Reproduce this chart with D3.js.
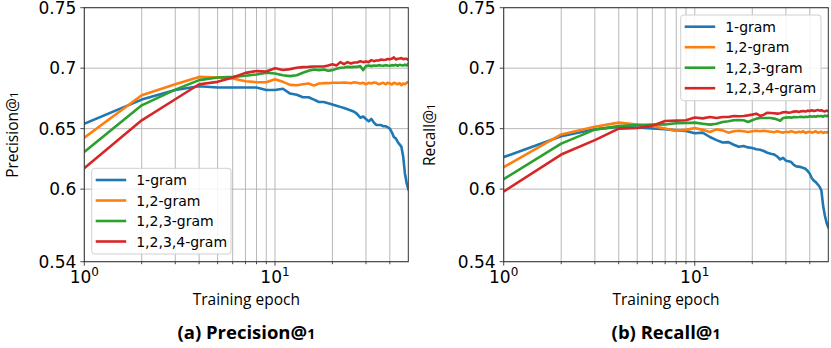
<!DOCTYPE html>
<html><head><meta charset="utf-8">
<script src="https://cdn.jsdelivr.net/npm/d3@7"></script>
<style>body{margin:0;background:#fff}svg{display:block}</style>
</head><body><svg id="c" width="831" height="348"></svg>
<script>
const epochs = [1,2,3,4,5,6,7,8,9,10,11,12,13,14,15,16,17,18,19,20,21,22,23,24,25,26,27,28,29,30,31,32,33,34,35,36,37,38,39,40,41,42,43,44,45,46,47,48,49,50];
const seriesNames = ["1-gram","1,2-gram","1,2,3-gram","1,2,3,4-gram"];
const seriesColors = ["#1f77b4","#ff7f0e","#2ca02c","#d62728"];

const precision1 = [0.654,0.674,0.682,0.685,0.684,0.684,0.684,0.684,0.682,0.682,0.683,0.679,0.678,0.676,0.676,0.674,0.672,0.672,0.671,0.670,0.669,0.668,0.667,0.666,0.665,0.664,0.662,0.659,0.660,0.658,0.656,0.658,0.655,0.653,0.653,0.653,0.652,0.652,0.651,0.650,0.647,0.643,0.642,0.639,0.637,0.635,0.627,0.613,0.605,0.600];
const precision12 = [0.6425,0.6776,0.6867,0.6928,0.6923,0.6915,0.6892,0.6884,0.6884,0.6909,0.6887,0.6862,0.6859,0.6867,0.6873,0.6856,0.6873,0.6876,0.6876,0.6879,0.6879,0.6879,0.6881,0.6879,0.6876,0.6884,0.6879,0.6873,0.6879,0.6867,0.6879,0.6873,0.6881,0.6879,0.6867,0.6873,0.6879,0.6867,0.6879,0.6873,0.6865,0.6879,0.6873,0.6867,0.6876,0.6859,0.6873,0.6867,0.6879,0.6884];
const precision123 = [0.6307,0.6693,0.6823,0.6901,0.6923,0.6928,0.6937,0.6948,0.6962,0.6956,0.6942,0.6934,0.6942,0.6962,0.6978,0.6989,0.6984,0.6989,0.6978,0.6984,0.6995,0.7003,0.7006,0.7011,0.7009,0.7011,0.7011,0.7017,0.6984,0.7017,0.7022,0.7017,0.7022,0.7020,0.7025,0.7022,0.7020,0.7025,0.7022,0.7020,0.7025,0.7022,0.7028,0.7020,0.7028,0.7025,0.7022,0.7030,0.7022,0.7036];
const precision1234 = [0.6174,0.6569,0.6743,0.6867,0.6887,0.6923,0.6961,0.6976,0.6973,0.7000,0.6985,0.6992,0.7003,0.7009,0.7011,0.7014,0.7014,0.7014,0.7022,0.7033,0.7022,0.7050,0.7033,0.7050,0.7039,0.7047,0.7047,0.7058,0.7050,0.7056,0.7050,0.7067,0.7058,0.7064,0.7064,0.7072,0.7067,0.7069,0.7075,0.7075,0.7078,0.7089,0.7072,0.7078,0.7080,0.7083,0.7075,0.7078,0.7078,0.7067];

const recall1 = [0.6265,0.6437,0.6495,0.6513,0.6510,0.6502,0.6495,0.6486,0.6481,0.6462,0.6467,0.6431,0.6405,0.6386,0.6389,0.6367,0.6350,0.6356,0.6345,0.6340,0.6330,0.6326,0.6315,0.6300,0.6293,0.6287,0.6270,0.6245,0.6259,0.6235,0.6230,0.6224,0.6200,0.6188,0.6186,0.6182,0.6175,0.6168,0.6150,0.6127,0.6090,0.6070,0.6058,0.6040,0.6020,0.5990,0.5860,0.5780,0.5720,0.5685];
const recall12 = [0.6182,0.6452,0.6515,0.6550,0.6533,0.6520,0.6502,0.6482,0.6490,0.6505,0.6490,0.6472,0.6494,0.6486,0.6467,0.6478,0.6483,0.6478,0.6472,0.6478,0.6483,0.6478,0.6483,0.6478,0.6475,0.6470,0.6478,0.6472,0.6467,0.6475,0.6470,0.6478,0.6472,0.6467,0.6475,0.6470,0.6478,0.6464,0.6472,0.6475,0.6467,0.6472,0.6478,0.6467,0.6470,0.6475,0.6464,0.6472,0.6467,0.6475];
const recall123 = [0.6083,0.6376,0.6492,0.6521,0.6530,0.6533,0.6535,0.6545,0.6547,0.6550,0.6541,0.6533,0.6541,0.6555,0.6561,0.6569,0.6572,0.6569,0.6555,0.6569,0.6583,0.6588,0.6588,0.6588,0.6588,0.6583,0.6575,0.6566,0.6588,0.6591,0.6594,0.6591,0.6596,0.6594,0.6596,0.6599,0.6594,0.6599,0.6596,0.6602,0.6599,0.6602,0.6599,0.6605,0.6602,0.6605,0.6599,0.6608,0.6602,0.6610];
const recall1234 = [0.5980,0.6286,0.6405,0.6500,0.6506,0.6525,0.6563,0.6566,0.6569,0.6592,0.6585,0.6596,0.6588,0.6596,0.6596,0.6605,0.6602,0.6605,0.6610,0.6616,0.6624,0.6605,0.6616,0.6632,0.6630,0.6627,0.6624,0.6627,0.6635,0.6638,0.6632,0.6635,0.6641,0.6643,0.6638,0.6643,0.6646,0.6641,0.6649,0.6646,0.6652,0.6646,0.6649,0.6654,0.6649,0.6652,0.6646,0.6643,0.6649,0.6643];

const yTicks = [0.54,0.6,0.65,0.7,0.75];
const yTickLabels = ["0.54","0.6","0.65","0.7","0.75"];
const xMajorTicks = [1,10];
const xMajorExponents = ["0","1"];
const xMinorTicks = [2,3,4,5,6,7,8,9,20,30,40];
const xDomain = [1,50];
const yDomain = [0.54,0.75];

const panels = [
  {title:"(a) Precision", yLabel:"Precision", series:[precision1,precision12,precision123,precision1234],
   left:84.3, right:408.3, yLabelX:13, legend:{x:91.7,y:168.3,w:139.3,h:85.7}},
  {title:"(b) Recall", yLabel:"Recall", series:[recall1,recall12,recall123,recall1234],
   left:503.7, right:828.3, yLabelX:430, legend:{x:680.7,y:15,w:140.3,h:85.7}}
];
const plotTop = 7.7, plotBottom = 261.7;
const svg = d3.select("#c");
const tickFont = "DejaVu Sans, sans-serif";
const labelFont = "'Open Sans', 'Noto Sans', sans-serif";

panels.forEach((p,pi) => {
  const x = d3.scaleLog().domain(xDomain).range([p.left,p.right]);
  const y = d3.scaleLinear().domain(yDomain).range([plotBottom,plotTop]);
  const g = svg.append("g");
  const cid = "clip"+pi;
  svg.append("clipPath").attr("id",cid).append("rect")
    .attr("x",p.left).attr("y",plotTop).attr("width",p.right-p.left).attr("height",plotBottom-plotTop);

  const grid = g.append("g").attr("stroke","#b0b0b0").attr("stroke-width",0.9);
  xMinorTicks.concat(xMajorTicks).forEach(v => {
    grid.append("line").attr("x1",x(v)).attr("x2",x(v)).attr("y1",plotTop).attr("y2",plotBottom);
  });
  yTicks.forEach(v => {
    grid.append("line").attr("x1",p.left).attr("x2",p.right).attr("y1",y(v)).attr("y2",y(v));
  });

  const line = d3.line().x((d,i)=>x(epochs[i])).y(d=>y(d));
  const lg = g.append("g").attr("clip-path",`url(#${cid})`);
  p.series.forEach((s,si) => {
    lg.append("path").attr("d",line(s)).attr("fill","none")
      .attr("stroke",seriesColors[si]).attr("stroke-width",2.6)
      .attr("stroke-linejoin","round").attr("stroke-linecap","square");
  });

  g.append("rect").attr("x",p.left).attr("y",plotTop).attr("width",p.right-p.left).attr("height",plotBottom-plotTop)
    .attr("fill","none").attr("stroke","#333").attr("stroke-width",1);

  const tk = g.append("g").attr("stroke","#333").attr("stroke-width",0.9);
  yTicks.forEach(v => tk.append("line").attr("x1",p.left-4).attr("x2",p.left).attr("y1",y(v)).attr("y2",y(v)));
  xMajorTicks.forEach(v => tk.append("line").attr("x1",x(v)).attr("x2",x(v)).attr("y1",plotBottom).attr("y2",plotBottom+4));
  xMinorTicks.forEach(v => tk.append("line").attr("x1",x(v)).attr("x2",x(v)).attr("y1",plotBottom).attr("y2",plotBottom+2.5));

  yTicks.forEach((v,i) => {
    g.append("text").attr("x",p.left-8).attr("y",y(v)).attr("dy","0.36em")
      .attr("text-anchor","end").attr("font-family",tickFont).attr("font-size",17)
      .attr("fill","#000").text(yTickLabels[i]);
  });
  xMajorTicks.forEach((v,i) => {
    const t = g.append("text").attr("x",x(v)).attr("y",282.5).attr("text-anchor","middle")
      .attr("font-family",tickFont).attr("font-size",17).attr("fill","#000");
    t.append("tspan").text("10");
    t.append("tspan").attr("font-size",12).attr("dy",-7).text(xMajorExponents[i]);
  });

  const cx = (p.left+p.right)/2;
  g.append("text").attr("x",cx).attr("y",305).attr("text-anchor","middle")
    .attr("font-family",labelFont).attr("font-size",15.5).attr("fill","#000").text("Training epoch");
  const yl = g.append("text").attr("transform",`translate(${p.yLabelX+5},${(plotTop+plotBottom)/2}) rotate(-90)`)
    .attr("text-anchor","middle").attr("font-family",labelFont).attr("font-size",15.5).attr("fill","#000");
  yl.append("tspan").text(p.yLabel+"@");
  yl.append("tspan").attr("font-size",11.5).text("1");
  const tt = g.append("text").attr("x",cx).attr("y",339).attr("text-anchor","middle")
    .attr("font-family",labelFont).attr("font-weight","bold").attr("font-size",18.5).attr("fill","#000");
  tt.append("tspan").text(p.title+"@");
  tt.append("tspan").attr("font-size",14).text("1");

  const L = p.legend;
  const lgd = g.append("g");
  lgd.append("rect").attr("x",L.x).attr("y",L.y).attr("width",L.w).attr("height",L.h).attr("rx",3)
    .attr("fill","#fff").attr("fill-opacity",0.85).attr("stroke","#d0d0d0").attr("stroke-width",1);
  seriesNames.forEach((n,si) => {
    const yy = L.y + 11.7 + si*20.5;
    lgd.append("line").attr("x1",L.x+4).attr("x2",L.x+34.5).attr("y1",yy).attr("y2",yy)
      .attr("stroke",seriesColors[si]).attr("stroke-width",2.6);
    lgd.append("text").attr("x",L.x+44.5).attr("y",yy).attr("dy","0.36em")
      .attr("font-family",tickFont).attr("font-size",14).attr("fill","#000").text(n);
  });
});
</script></body></html>
